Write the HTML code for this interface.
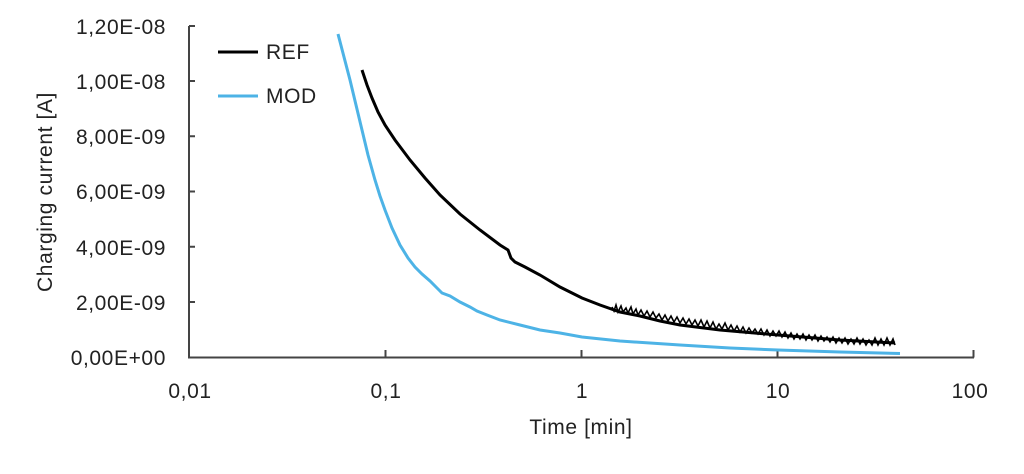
<!DOCTYPE html>
<html><head><meta charset="utf-8"><style>
html,body{margin:0;padding:0;background:#fff;}
text{font-family:"Liberation Sans",sans-serif;fill:#222;}
</style></head><body>
<svg width="1024" height="469" viewBox="0 0 1024 469" xmlns="http://www.w3.org/2000/svg">
<g stroke="#444" stroke-width="2" fill="none">
<path d="M189 26 V357.5 H974"/>
<path d="M189 26H195M189 81H195M189 136.3H195M189 191.5H195M189 246.7H195M189 302H195"/>
<path d="M385.5 357.5V350M581.5 357.5V350M777.5 357.5V350M973.5 357.5V350"/>
</g>
<g font-size="21" text-anchor="end" letter-spacing="0.6">
<text x="166" y="34">1,20E-08</text>
<text x="166" y="89">1,00E-08</text>
<text x="166" y="144">8,00E-09</text>
<text x="166" y="199">6,00E-09</text>
<text x="166" y="255">4,00E-09</text>
<text x="166" y="310">2,00E-09</text>
<text x="166" y="365">0,00E+00</text>
</g>
<g font-size="21" text-anchor="middle" letter-spacing="0.6">
<text x="190" y="398">0,01</text>
<text x="386" y="398">0,1</text>
<text x="582" y="398">1</text>
<text x="778" y="398">10</text>
<text x="970" y="398">100</text>
<text x="581" y="434">Time [min]</text>
<text transform="translate(52 192) rotate(-90)">Charging current [A]</text>
</g>
<polyline fill="none" stroke="#4db3e6" stroke-width="3" points="338,34 344,57 350,80 356,105 362,130 368,155 375,180 380,196 385,210 392,228 400,245 408,258 415,267 422,274 430,281 437,288 442,293 450,296 460,302 470,307 477,311 487,315 500,320 520,325 540,330 560,333 582,337 620,341 680,345 730,348 778,350 840,352 900,353.5"/>
<polyline fill="none" stroke="#000" stroke-width="3" points="362,70 367,85 372,98 378,112 385,125 395,140 410,160 425,178 440,195 460,214 480,230 500,245 508,250 511,258 515,262 525,267 540,275 560,287 582,298 600,305 620,312 640,316 660,321 680,325 720,330 778,335 840,340 895,343"/>
<polyline fill="none" stroke="#000" stroke-width="1.6" points="612,307 614,311 616,305 618,312 621,306 623,312 626,308 628,313 631,307 633,314 636,309 638,315 641,310 644,316 647,311 650,317 653,312 656,318 659,314 662,320 665,315 668,321 671,316 674,322 677,317 680,323 683,318 686,324 689,319 692,325 695,320 698,326 701,320 704,327 707,321 710,328 713,322 716,329 719,324 722,329 725,323 728,330 731,325 734,331 737,326 740,332 743,327 746,333 749,328 752,333 755,329 758,334 761,329 764,335 767,330 770,336 773,331 776,336 779,331 782,337 785,332 788,338 791,333 794,339 797,334 800,339 803,334 806,340 809,335 812,340 815,335 818,341 821,336 824,341 827,337 830,342 833,337 836,343 839,338 842,343 845,338 848,344 851,339 854,344 857,338 860,344 863,339 866,345 869,340 872,345 875,338 878,345 881,339 884,345 887,338 890,345 893,339 895,345"/>
<line x1="218" y1="52" x2="258" y2="52" stroke="#000" stroke-width="3"/>
<text x="266" y="59" font-size="21" letter-spacing="0.6">REF</text>
<line x1="218" y1="96" x2="258" y2="96" stroke="#4db3e6" stroke-width="3"/>
<text x="266" y="103" font-size="21" letter-spacing="0.6">MOD</text>
</svg>
</body></html>
